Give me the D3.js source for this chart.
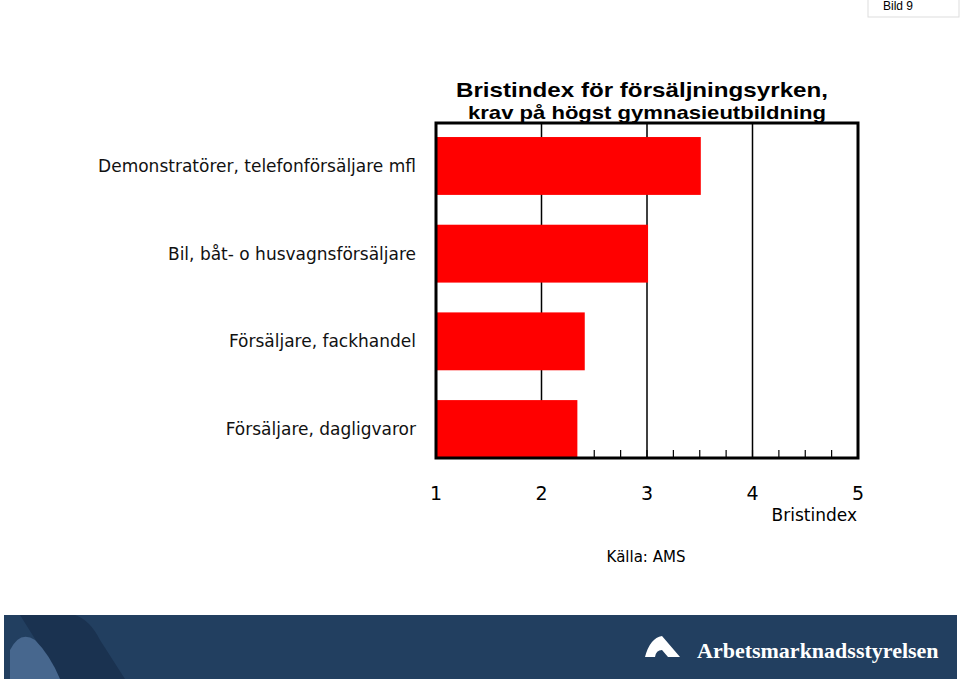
<!DOCTYPE html>
<html><head><meta charset="utf-8">
<script src="https://cdn.jsdelivr.net/npm/d3@7"></script>
<style>body{margin:0;background:#fff}</style></head>
<body><svg id="c" width="960" height="681"></svg>
<script>
const categories = ["Demonstratörer, telefonförsäljare mfl","Bil, båt- o husvagnsförsäljare","Försäljare, fackhandel","Försäljare, dagligvaror"];
const values = [3.51, 3.01, 2.41, 2.34];
const majorTicks = [1,2,3,4,5];
const minorTicks = d3.range(1,5.001,0.25);

const svg = d3.select("#c");
const L=436,R=858,T=123,B=458;
const x = d3.scaleLinear().domain([1,5]).range([L,R]);
const y = d3.scaleBand().domain(categories).range([T,B+14]).paddingInner(0.34).paddingOuter(0.16);

svg.append("rect").attr("x",868).attr("y",-1).attr("width",91).attr("height",18).attr("fill","none").attr("stroke","#ddd");
svg.append("text").attr("x",913).attr("y",10).attr("text-anchor","end").attr("font-family","Liberation Sans").attr("font-size",12).text("Bild 9");

svg.append("text").attr("x",456).attr("y",97).attr("textLength",372).attr("lengthAdjust","spacingAndGlyphs").attr("font-family","Liberation Sans").attr("font-weight","bold").attr("font-size",21).text("Bristindex för försäljningsyrken,");
svg.append("text").attr("x",468).attr("y",119).attr("textLength",358).attr("lengthAdjust","spacingAndGlyphs").attr("font-family","Liberation Sans").attr("font-weight","bold").attr("font-size",19).text("krav på högst gymnasieutbildning");

svg.selectAll(".g").data([2,3,4]).enter().append("line").attr("x1",d=>x(d)).attr("x2",d=>x(d)).attr("y1",T).attr("y2",B).attr("stroke","#000").attr("stroke-width",1.5);
svg.selectAll(".m").data(minorTicks).enter().append("line").attr("x1",d=>x(d)).attr("x2",d=>x(d)).attr("y1",B-8).attr("y2",B).attr("stroke","#000").attr("stroke-width",1.2);
svg.selectAll(".b").data(values).enter().append("rect").attr("x",x(1)).attr("y",(d,i)=>y(categories[i])).attr("width",d=>x(d)-x(1)).attr("height",y.bandwidth()).attr("fill","#ff0000");
svg.append("rect").attr("x",L).attr("y",T).attr("width",R-L).attr("height",B-T).attr("fill","none").attr("stroke","#000").attr("stroke-width",3);

svg.selectAll(".cl").data(categories).enter().append("text").attr("x",416).attr("y",d=>y(d)+y.bandwidth()/2+6).attr("text-anchor","end").attr("font-family","DejaVu Sans").attr("font-size",17).attr("fill","#111").text(d=>d);
svg.selectAll(".tl").data(majorTicks).enter().append("text").attr("x",d=>x(d)).attr("y",500).attr("text-anchor","middle").attr("font-family","DejaVu Sans").attr("font-size",19).text(d=>d);
svg.append("text").attr("x",857).attr("y",521).attr("text-anchor","end").attr("font-family","DejaVu Sans").attr("font-size",17).text("Bristindex");
svg.append("text").attr("x",646).attr("y",562).attr("text-anchor","middle").attr("font-family","DejaVu Sans").attr("font-size",15).text("Källa: AMS");

svg.append("rect").attr("x",4).attr("y",615).attr("width",953).attr("height",64).attr("fill","#223f60");
svg.append("path").attr("d","M20,615 L75,615 Q90,620 100,640 L125,679 L60,679 Z").attr("fill","#1a3250");
svg.append("path").attr("d","M10,650 Q20,630 35,640 Q50,655 60,679 L10,679 Z").attr("fill","#47678e");
svg.append("path").attr("d","M645,657 Q650,638 662,636 L680,657 L668,657 L662,650 Q656,650 655,657 Z").attr("fill","#fff");
svg.append("text").attr("x",697).attr("y",658).attr("font-family","Liberation Serif").attr("font-weight","bold").attr("font-size",22).attr("fill","#fff").text("Arbetsmarknadsstyrelsen");
</script></body></html>
